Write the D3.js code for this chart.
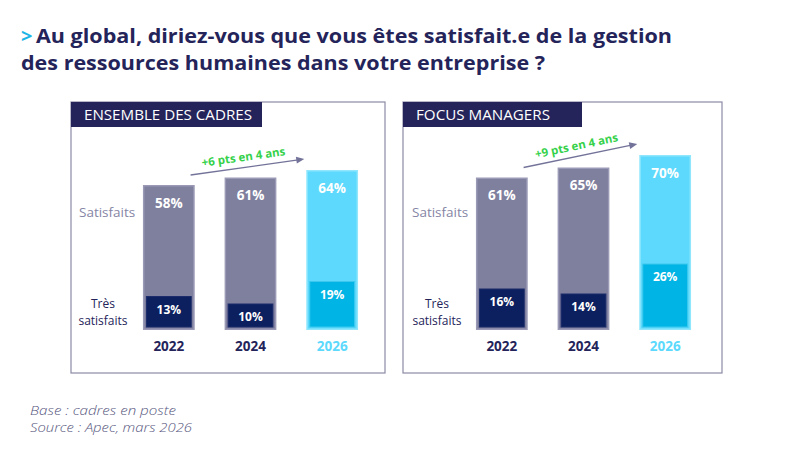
<!DOCTYPE html>
<html>
<head>
<meta charset="utf-8">
<script src="https://cdn.jsdelivr.net/npm/d3@7/dist/d3.min.js"></script>
<style>
  html, body { margin: 0; padding: 0; background: #ffffff; }
  svg { display: block; font-family: "Open Sans", Lato, sans-serif; }
</style>
</head>
<body>
<svg id="chart" width="800" height="453"></svg>
<script>
// ---- data ----
const years = ["2022", "2024", "2026"];
const cadresSatisfaits = [58, 61, 64];
const cadresTres = [13, 10, 19];
const managersSatisfaits = [61, 65, 70];
const managersTres = [16, 14, 26];
const panelTitles = ["ENSEMBLE DES CADRES", "FOCUS MANAGERS"];
const annotations = ["+6 pts en 4 ans", "+9 pts en 4 ans"];
const titleLines = ["Au global, diriez-vous que vous êtes satisfait.e de la gestion",
                    "des ressources humaines dans votre entreprise ?"];
const footLines = ["Base : cadres en poste", "Source : Apec, mars 2026"];

// ---- styles ----
const navy = "#24245a";
const grayBar = "#7f7f9e", grayStroke = "#9a9ab6";
const cyanBar = "#5cd9fc", cyanStroke = "#8fe6fd";
const navyInner = "#0c1f5e", cyanInner = "#00b5e5";
const green = "#35d14a";

const svg = d3.select("#chart");

// Title
const title = svg.append("g").attr("font-size", 20).attr("font-weight", 700).attr("fill", navy);
title.append("text").attr("x", 21).attr("y", 43).attr("fill", "#1db4e6").text(">");
title.append("text").attr("x", 36).attr("y", 43)
  .attr("textLength", 636).attr("lengthAdjust", "spacingAndGlyphs").text(titleLines[0]);
title.append("text").attr("x", 21).attr("y", 70)
  .attr("textLength", 524).attr("lengthAdjust", "spacingAndGlyphs").text(titleLines[1]);

// Panels
const y = d3.scaleLinear().domain([0, 100]).range([330, 80]);

const panels = [
  {x0: 71, x1: 385, headW: 191, headTL: 168, range: [128, 373], sat: cadresSatisfaits, tres: cadresTres, title: panelTitles[0], ann: annotations[0], labX: 79, tresX: 103},
  {x0: 403, x1: 722, headW: 179, headTL: 134, range: [461, 706], sat: managersSatisfaits, tres: managersTres, title: panelTitles[1], ann: annotations[1], labX: 412, tresX: 437}
];

panels.forEach(p => {
  const g = svg.append("g");
  g.append("rect").attr("x", p.x0).attr("y", 102).attr("width", p.x1 - p.x0).attr("height", 271)
    .attr("fill", "none").attr("stroke", "#8a8aa6").attr("stroke-width", 1.2);
  g.append("rect").attr("x", p.x0).attr("y", 102).attr("width", p.headW).attr("height", 25)
    .attr("fill", navy);
  g.append("text").attr("x", p.x0 + 13).attr("y", 119.5).attr("fill", "#fff")
    .attr("font-size", 14).attr("textLength", p.headTL).attr("lengthAdjust", "spacingAndGlyphs")
    .text(p.title);

  const x = d3.scaleBand().domain(years).range(p.range).paddingInner(0.366).paddingOuter(0.183);
  const bw = x.bandwidth();
  const last = years[years.length - 1];

  // outer bars
  g.selectAll(".outer").data(years).join("rect")
    .attr("x", d => x(d) + 0.75).attr("width", bw - 1.5)
    .attr("y", (d, i) => y(p.sat[i]) + 0.75).attr("height", (d, i) => y(0) - y(p.sat[i]) - 1.5)
    .attr("fill", d => d === last ? cyanBar : grayBar)
    .attr("stroke", d => d === last ? cyanStroke : grayStroke).attr("stroke-width", 1.5);

  // inner bars
  g.selectAll(".inner").data(years).join("rect")
    .attr("x", d => x(d) + 3.5).attr("width", bw - 7)
    .attr("y", (d, i) => y(p.tres[i]) - 1).attr("height", (d, i) => y(0) - y(p.tres[i]) - 2)
    .attr("fill", d => d === last ? cyanInner : navyInner)
    .attr("stroke", d => d === last ? "#3cc8ee" : "#1c2c6a").attr("stroke-width", 1);

  // value labels
  g.selectAll(".vsat").data(years).join("text")
    .attr("x", d => x(d) + bw / 2).attr("y", (d, i) => y(p.sat[i]) + 18)
    .attr("dy", "0.35em").attr("text-anchor", "middle").attr("fill", "#fff")
    .attr("font-size", 13.5).attr("font-weight", 700).text((d, i) => p.sat[i] + "%");
  g.selectAll(".vtres").data(years).join("text")
    .attr("x", d => x(d) + bw / 2).attr("y", (d, i) => y(p.tres[i]) + 12)
    .attr("dy", "0.35em").attr("text-anchor", "middle").attr("fill", "#fff")
    .attr("font-size", 12).attr("font-weight", 700).text((d, i) => p.tres[i] + "%");

  // year labels
  g.selectAll(".year").data(years).join("text")
    .attr("x", d => x(d) + bw / 2).attr("y", 346).attr("dy", "0.35em")
    .attr("text-anchor", "middle").attr("font-size", 13.5).attr("font-weight", 700)
    .attr("fill", d => d === last ? cyanBar : navy).text(d => d);

  // row labels
  g.append("text").attr("x", p.labX).attr("y", 212).attr("dy", "0.35em")
    .attr("font-size", 13.5).attr("fill", "#8585a5").text("Satisfaits");
  g.append("text").attr("x", p.tresX).attr("y", 304).attr("dy", "0.35em").attr("text-anchor", "middle")
    .attr("font-size", 12).attr("fill", navy).text("Très");
  g.append("text").attr("x", p.tresX).attr("y", 321).attr("dy", "0.35em").attr("text-anchor", "middle")
    .attr("font-size", 12).attr("fill", navy).text("satisfaits");

  // arrow annotation
  const sx = x(years[0]) + bw * 0.92, sy = y(p.sat[0]) - 10;
  const ex = x(last) - 2, ey = y(p.sat[p.sat.length - 1]) - 11;
  const ang = Math.atan2(ey - sy, ex - sx);
  const deg = ang * 180 / Math.PI;
  g.append("line").attr("x1", sx).attr("y1", sy).attr("x2", ex - 6 * Math.cos(ang)).attr("y2", ey - 6 * Math.sin(ang))
    .attr("stroke", "#73739a").attr("stroke-width", 1.3);
  g.append("path")
    .attr("d", "M0,0 L-8,-3.5 L-8,3.5 Z")
    .attr("transform", `translate(${ex},${ey}) rotate(${deg})`)
    .attr("fill", "#73739a");
  const mx = (sx + ex) / 2 - 4, my = (sy + ey) / 2 - 10;
  g.append("text").attr("transform", `translate(${mx},${my}) rotate(${deg})`)
    .attr("text-anchor", "middle").attr("dy", "0.35em")
    .attr("font-size", 11.5).attr("font-weight", 700).attr("fill", green).text(p.ann);
});

// Footer
const footTL = [146, 162];
const foot = svg.append("g").attr("font-size", 13.5).attr("font-style", "italic")
  .attr("font-weight", 300).attr("fill", "#56567e");
footLines.forEach((l, i) => foot.append("text").attr("x", 30).attr("y", 415 + i * 17)
  .attr("textLength", footTL[i]).attr("lengthAdjust", "spacingAndGlyphs").text(l));
</script>
</body>
</html>
